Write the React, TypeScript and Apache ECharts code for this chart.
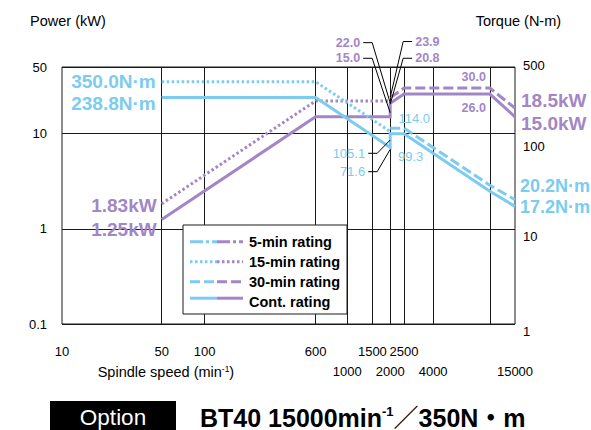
import React, { useEffect, useRef } from 'react';
import * as echarts from 'echarts';

const FONT = '"Liberation Sans", Arial, Helvetica, sans-serif';
const PURPLE = '#a286c6';
const CYAN = '#7ccbf0';
const INK = '#1a1a1a';

// ---- data: [spindle speed (min-1), value] ----
const power15min: [number, number][] = [[50, 1.83], [600, 22.0], [2000, 22.0]];
const power30min: [number, number][] = [[2000, 23.9], [2500, 30.0], [10000, 30.0], [15000, 18.5]];
const powerCont: [number, number][] = [[50, 1.25], [600, 15.0], [2000, 15.0], [2000, 20.8], [2500, 26.0], [10000, 26.0], [15000, 15.0]];
const torque15min: [number, number][] = [[50, 350.0], [600, 350.0], [2000, 105.1]];
const torque30min: [number, number][] = [[2000, 114.0], [2500, 114.0], [10000, 28.6], [15000, 20.2]];
const torqueCont: [number, number][] = [[50, 238.8], [600, 238.8], [2000, 71.6], [2000, 99.3], [2500, 99.3], [10000, 24.8], [15000, 17.2]];

const speedMin = 10;
const speedMax = 15000;
const speedGridLines = [50, 100, 600, 1000, 1500, 2000, 2500, 4000, 10000];
const speedTickLabels = [10, 50, 100, 600, 1000, 1500, 2000, 2500, 4000, 10000, 15000];
const speedSecondRow = [1000, 2000, 4000, 15000];
const ratingNames = ['5-min rating', '15-min rating', '30-min rating', 'Cont. rating'];

const seriesData = [power15min, power30min, powerCont, torque15min, torque30min, torqueCont];

const DOT = [2.5, 2.5];
const DASH = [10, 4];
const DASHDOT = [13, 3, 3, 3];

const fmtNm = (v: number) => v.toFixed(1) + 'N·m';
const fmtKW2 = (v: number) => v.toFixed(2) + 'kW';
const fmtKW1 = (v: number) => v.toFixed(1) + 'kW';
const fmt1 = (v: number) => v.toFixed(1);

type Ann = {
  s: number; i: number; fmt: (v: number) => string;
  dx: number; dy: number; align: 'left' | 'right';
  size: number; bold: boolean; color: string;
  leader?: [number, number];
};

const annotations: Ann[] = [
  { s: 3, i: 0, fmt: fmtNm, dx: -6, dy: -0.5, align: 'right', size: 19, bold: true, color: CYAN },
  { s: 5, i: 0, fmt: fmtNm, dx: -6, dy: 5.5, align: 'right', size: 19, bold: true, color: CYAN },
  { s: 0, i: 0, fmt: fmtKW2, dx: -5, dy: 1.5, align: 'right', size: 19, bold: true, color: PURPLE },
  { s: 2, i: 0, fmt: fmtKW2, dx: -5, dy: 10, align: 'right', size: 19, bold: true, color: PURPLE },
  { s: 1, i: 3, fmt: fmtKW1, dx: 6, dy: -8, align: 'left', size: 19, bold: true, color: PURPLE },
  { s: 2, i: 6, fmt: fmtKW1, dx: 6, dy: 6.5, align: 'left', size: 19, bold: true, color: PURPLE },
  { s: 4, i: 3, fmt: fmtNm, dx: 5, dy: -14, align: 'left', size: 18, bold: true, color: CYAN },
  { s: 5, i: 6, fmt: fmtNm, dx: 5, dy: 1, align: 'left', size: 18, bold: true, color: CYAN },
  { s: 1, i: 2, fmt: fmt1, dx: -4, dy: -11.5, align: 'right', size: 12.5, bold: true, color: PURPLE },
  { s: 2, i: 5, fmt: fmt1, dx: -4, dy: 14.3, align: 'right', size: 12.5, bold: true, color: PURPLE },
  { s: 4, i: 1, fmt: fmt1, dx: -5.5, dy: -9.8, align: 'left', size: 13, bold: false, color: CYAN },
  { s: 5, i: 4, fmt: fmt1, dx: -6, dy: 23, align: 'left', size: 13, bold: false, color: CYAN },
  { s: 0, i: 2, fmt: fmt1, dx: -30, dy: -58.3, align: 'right', size: 12.5, bold: true, color: PURPLE, leader: [0, 2] },
  { s: 2, i: 2, fmt: fmt1, dx: -30, dy: -58.5, align: 'right', size: 12.5, bold: true, color: PURPLE, leader: [0, -4] },
  { s: 1, i: 0, fmt: fmt1, dx: 25, dy: -56, align: 'left', size: 12.5, bold: true, color: PURPLE, leader: [0, 0] },
  { s: 2, i: 3, fmt: fmt1, dx: 25, dy: -45, align: 'left', size: 12.5, bold: true, color: PURPLE, leader: [0, 1] },
  { s: 3, i: 2, fmt: fmt1, dx: -25, dy: 21.8, align: 'right', size: 13, bold: false, color: CYAN, leader: [0, 8.5] },
  { s: 5, i: 2, fmt: fmt1, dx: -25, dy: 24.3, align: 'right', size: 13, bold: false, color: CYAN, leader: [0, 2] },
];

const numLabel = (v: number) => (v < 1 ? String(Number(v.toFixed(1))) : String(Math.round(v)));

function textEl(text: string, x: number, y: number, o: any = {}) {
  const align = o.align || 'left';
  return {
    type: 'text', x, y, z: 20,
    style: {
      text, fill: o.fill || '#000', fontSize: o.size || 13, fontWeight: o.weight || 'normal',
      fontFamily: o.family || FONT, align, textAlign: align,
      verticalAlign: 'middle', textVerticalAlign: 'middle', rich: o.rich,
    },
  };
}

function lineEl(x1: number, y1: number, x2: number, y2: number, stroke: string, dash: number[] | null) {
  return {
    type: 'line', z: 21,
    shape: { x1, y1, x2, y2 },
    style: { stroke, lineWidth: 3, lineDash: dash || undefined, lineCap: 'butt' },
  };
}

function staticGraphics(): any[] {
  const els: any[] = [];
  els.push(textEl('Power (kW)', 30, 20.7, { size: 14.5 }));
  els.push(textEl('Torque (N-m)', 475.7, 21, { size: 14.5 }));
  els.push(textEl('Spindle speed (min{s|-1})', 97.7, 372.3, {
    size: 14.5,
    rich: { s: { fontSize: 8.5, fontFamily: FONT, fill: '#000', padding: [0, 0, 7, 0] } },
  }));
  // legend
  els.push({
    type: 'rect', z: 15,
    shape: { x: 183, y: 225, width: 164, height: 89 },
    style: { fill: '#fff', stroke: INK, lineWidth: 1 },
  });
  const dashes = [DASHDOT, DOT, DASH, null];
  ratingNames.forEach((name, k) => {
    const ty = 241.7 + 20 * k;
    const ly = k === 3 ? ty - 3.5 : ty;
    els.push(lineEl(190, ly, 217, ly, CYAN, dashes[k]));
    els.push(lineEl(217, ly, 243, ly, PURPLE, dashes[k]));
    els.push(textEl(name, 249, ty, { size: 14.5, weight: 'bold' }));
  });
  // title row
  els.push({
    type: 'rect', z: 15,
    shape: { x: 50, y: 401, width: 126, height: 30 },
    style: { fill: '#000' },
  });
  els.push(textEl('Option', 113, 417, { size: 22.5, fill: '#fff', align: 'center' }));
  els.push(textEl('BT40 15000min{s|-1}／350N・m', 200, 417.5, {
    size: 25, weight: 'bold', family: '"Liberation Sans", Arial, "Noto Sans CJK JP", sans-serif',
    rich: { s: { fontSize: 13, fontWeight: 'bold', fontFamily: FONT, fill: '#000', padding: [0, 0, 12, 0] } },
  }));
  return els;
}

function annotationGraphics(chart: any): any[] {
  const els: any[] = [];
  annotations.forEach((a) => {
    const pt = seriesData[a.s][a.i];
    const p = chart.convertToPixel({ seriesIndex: a.s }, pt);
    if (!p) return;
    const tx = p[0] + a.dx;
    const ty = p[1] + a.dy;
    els.push(textEl(a.fmt(pt[1]), tx, ty, { size: a.size, weight: a.bold ? 'bold' : 'normal', fill: a.color, align: a.align }));
    if (a.leader) {
      const dir = a.align === 'right' ? 1 : -1;
      els.push({
        type: 'polyline', z: 21,
        shape: { points: [[tx + dir * 3, ty], [tx + dir * 12, ty], [p[0] + a.leader[0], p[1] + a.leader[1]]] },
        style: { stroke: '#000', lineWidth: 1, fill: null },
      });
    }
  });
  return els;
}

function lineSeries(data: [number, number][], yAxisIndex: number, color: string, dash: any) {
  return {
    type: 'line', data, yAxisIndex, symbol: 'none', silent: true,
    lineStyle: { color, width: 3, type: dash, cap: 'butt', join: 'miter' },
    z: 5,
  };
}

const rightRich = {
  a: { fontSize: 13, fontFamily: FONT, color: '#000', padding: [0, 0, 4, 0] },
  b: { fontSize: 13, fontFamily: FONT, color: '#000', padding: [25, 0, 0, 0] },
  c: { fontSize: 13, fontFamily: FONT, color: '#000', padding: [16, 0, 0, 0] },
  d: { fontSize: 13, fontFamily: FONT, color: '#000', padding: [14, 0, 0, 0] },
};

// keep the end label inside the log extent (floating point rounding at the max)
const labelValues = speedTickLabels.map((v) => (v >= speedMax ? v * 0.99999 : v <= speedMin ? v * 1.00001 : v));

const baseOption: any = {
  animation: false,
  backgroundColor: '#fff',
  grid: { left: 62, top: 67, width: 453, height: 257, show: true, borderColor: INK, borderWidth: 1, backgroundColor: 'transparent' },
  xAxis: {
    type: 'log', logBase: 10, min: speedMin, max: speedMax,
    axisLine: { show: false },
    axisTick: { show: false, customValues: speedGridLines },
    splitLine: { show: true, lineStyle: { color: INK, width: 1 } },
    axisLabel: {
      customValues: labelValues,
      showMinLabel: true, showMaxLabel: true, hideOverlap: false,
      margin: 18, fontSize: 13, fontFamily: FONT, color: '#000', lineHeight: 19.5,
      formatter: (v: number) => (speedSecondRow.indexOf(Math.round(v)) >= 0 ? '\n' : '') + String(Math.round(v)),
    },
  },
  yAxis: [
    {
      type: 'log', logBase: 10, min: 0.1, max: 50, position: 'left',
      axisLine: { show: false }, axisTick: { show: false },
      splitLine: { show: true, lineStyle: { color: INK, width: 1 } },
      axisLabel: { margin: 15, fontSize: 13, fontFamily: FONT, color: '#000', formatter: numLabel, showMinLabel: true, showMaxLabel: true },
    },
    {
      type: 'log', logBase: 10, min: 1, max: 500, position: 'right',
      axisLine: { show: false }, axisTick: { show: false }, splitLine: { show: false },
      axisLabel: {
        margin: 8, fontSize: 13, fontFamily: FONT, color: '#000', showMinLabel: true, showMaxLabel: true,
        formatter: (v: number) => {
          const key = v >= 400 ? 'a' : v >= 90 ? 'b' : v >= 9 ? 'c' : 'd';
          return '{' + key + '|' + numLabel(v) + '}';
        },
        rich: rightRich,
      },
    },
  ],
  series: [
    lineSeries(power15min, 0, PURPLE, DOT),
    lineSeries(power30min, 0, PURPLE, DASH),
    lineSeries(powerCont, 0, PURPLE, 'solid'),
    lineSeries(torque15min, 1, CYAN, DOT),
    lineSeries(torque30min, 1, CYAN, DASH),
    lineSeries(torqueCont, 1, CYAN, 'solid'),
  ],
};

export default function App() {
  const ref = useRef<HTMLDivElement>(null);
  useEffect(() => {
    const el = ref.current;
    if (!el) return;
    const chart = echarts.init(el, undefined, { renderer: 'svg' });
    chart.setOption(baseOption);
    chart.setOption({ graphic: [...staticGraphics(), ...annotationGraphics(chart)] });
    return () => chart.dispose();
  }, []);
  return (
    <div
      ref={ref}
      style={{ position: 'fixed', left: 0, top: 0, width: 591, height: 430, background: '#fff' }}
    />
  );
}
